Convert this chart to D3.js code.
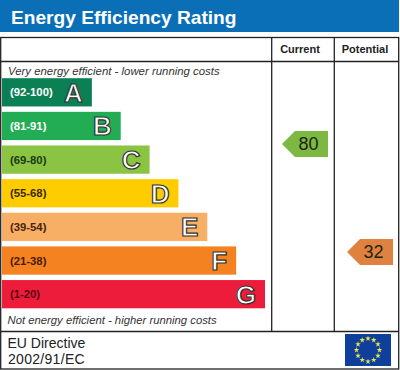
<!DOCTYPE html>
<html>
<head>
<meta charset="utf-8">
<script src="https://cdn.jsdelivr.net/npm/d3@7"></script>
<style>
  html, body { margin: 0; padding: 0; background: #fff; }
  svg { display: block; }
  text { font-family: "Liberation Sans", Arial, sans-serif; }
</style>
</head>
<body>
<div id="chart"></div>
<script>
const width = 400,
  height = 370;

const letters = ["A", "B", "C", "D", "E", "F", "G"];
const ranges = ["(92-100)", "(81-91)", "(69-80)", "(55-68)", "(39-54)", "(21-38)", "(1-20)"];
const bandSteps = [1, 2, 3, 4, 5, 6, 7];
const bandColors = ["#0c8055", "#22ad54", "#8bc342", "#ffcc00", "#f7af66", "#f58220", "#ec1c3a"];
const rangeColors = ["#ffffff", "#ffffff", "#1c3a12", "#3a2a00", "#4a2408", "#4a1c04", "#5a0612"];
const scoreNames = ["Current", "Potential"];
const scores = [80, 32];
const scoreColors = ["#7db843", "#e0823f"];

const svg = d3.select("#chart")
  .append("svg")
  .attr("width", width)
  .attr("height", height)
  .style("background-color", "#ffffff");

const y = d3.scaleBand()
  .domain(letters)
  .range([75.5, 311])
  .paddingInner(0.16)
  .paddingOuter(0.08);

const barLength = d3.scaleLinear()
  .domain([0, 7])
  .range([61, 263]);

const column = d3.scaleOrdinal()
  .domain(scoreNames)
  .range([328, 393]);

const scoreY = d3.scaleLinear()
  .domain([80, 32])
  .range([144, 252]);

// header
svg.append("rect")
  .attr("width", 399)
  .attr("height", 32)
  .attr("fill", "#0b6fb8");

svg.append("text")
  .attr("x", 11)
  .attr("y", 23.5)
  .attr("fill", "#ffffff")
  .style("font-size", "19.15px")
  .style("font-weight", "bold")
  .text("Energy Efficiency Rating");

// frame
const frame = svg.append("g")
  .attr("stroke", "#222222")
  .attr("stroke-width", 1.3)
  .attr("fill", "none");

frame.append("rect").attr("x", 0.7).attr("y", 37.5).attr("width", 398).attr("height", 331.5);
frame.append("line").attr("x1", 0.7).attr("x2", 398.7).attr("y1", 61.5).attr("y2", 61.5);
frame.append("line").attr("x1", 0.7).attr("x2", 398.7).attr("y1", 331.5).attr("y2", 331.5);
frame.append("line").attr("x1", 271.7).attr("x2", 271.7).attr("y1", 37.5).attr("y2", 331.5);
frame.append("line").attr("x1", 334.3).attr("x2", 334.3).attr("y1", 37.5).attr("y2", 331.5);

svg.selectAll(".colhead")
  .data(scoreNames)
  .enter()
  .append("text")
  .attr("class", "colhead")
  .attr("x", (d, i) => i === 0 ? 300 : 365)
  .attr("y", 53)
  .attr("text-anchor", "middle")
  .attr("fill", "#222222")
  .style("font-size", "11px")
  .style("font-weight", "bold")
  .text(d => d);

// captions
svg.append("text")
  .attr("x", 8)
  .attr("y", 74.5)
  .attr("fill", "#333333")
  .style("font-size", "11.4px")
  .style("font-style", "italic")
  .text("Very energy efficient - lower running costs");

svg.append("text")
  .attr("x", 7.5)
  .attr("y", 324)
  .attr("fill", "#333333")
  .style("font-size", "11.3px")
  .style("font-style", "italic")
  .text("Not energy efficient - higher running costs");

// bands
const bands = svg.selectAll(".band")
  .data(letters)
  .enter()
  .append("g")
  .attr("class", "band");

bands.append("rect")
  .attr("x", 2)
  .attr("y", d => y(d))
  .attr("width", (d, i) => barLength(bandSteps[i]))
  .attr("height", y.bandwidth())
  .attr("fill", (d, i) => bandColors[i]);

bands.append("text")
  .attr("x", 10)
  .attr("y", d => y(d) + y.bandwidth() / 2 + 4)
  .attr("fill", (d, i) => rangeColors[i])
  .style("font-size", "11.3px")
  .style("font-weight", "bold")
  .text((d, i) => ranges[i]);

bands.append("text")
  .attr("x", (d, i) => 2 + barLength(bandSteps[i]) - 9)
  .attr("y", d => y(d) + y.bandwidth() / 2 + 9.5)
  .attr("text-anchor", "end")
  .attr("fill", "#ffffff")
  .attr("stroke", "#333333")
  .attr("stroke-width", 1.2)
  .style("font-size", "26px")
  .style("font-weight", "bold")
  .text(d => d);

// score arrows
const arrow = svg.selectAll(".score")
  .data(scores)
  .enter()
  .append("g")
  .attr("class", "score")
  .attr("transform", (d, i) => `translate(${column(scoreNames[i])},${scoreY(d)})`);

arrow.append("path")
  .attr("d", d3.line()([[0, -13], [-33, -13], [-46, 0], [-33, 13], [0, 13]]) + "Z")
  .attr("fill", (d, i) => scoreColors[i]);

arrow.append("text")
  .attr("x", -19.5)
  .attr("y", 6.2)
  .attr("text-anchor", "middle")
  .attr("fill", "#1c2410")
  .style("font-size", "18px")
  .text(d => d);

// footer
svg.append("text")
  .attr("x", 7.5)
  .attr("y", 348)
  .attr("fill", "#222222")
  .style("font-size", "14px")
  .text("EU Directive");

svg.append("text")
  .attr("x", 8)
  .attr("y", 364)
  .attr("fill", "#222222")
  .style("font-size", "14px")
  .style("letter-spacing", "0.3px")
  .text("2002/91/EC");

// EU flag
const flag = svg.append("g").attr("transform", "translate(345,334)");

flag.append("rect")
  .attr("width", 46)
  .attr("height", 32)
  .attr("fill", "#0f3f9c");

flag.selectAll("path")
  .data(d3.range(12))
  .enter()
  .append("path")
  .attr("d", d3.symbol(d3.symbolStar, 10))
  .attr("fill", "#e3e44e")
  .attr("transform", d => {
    const a = d * Math.PI / 6;
    return `translate(${23 + 11.5 * Math.sin(a)},${16 - 11.5 * Math.cos(a)})`;
  });
</script>
</body>
</html>
